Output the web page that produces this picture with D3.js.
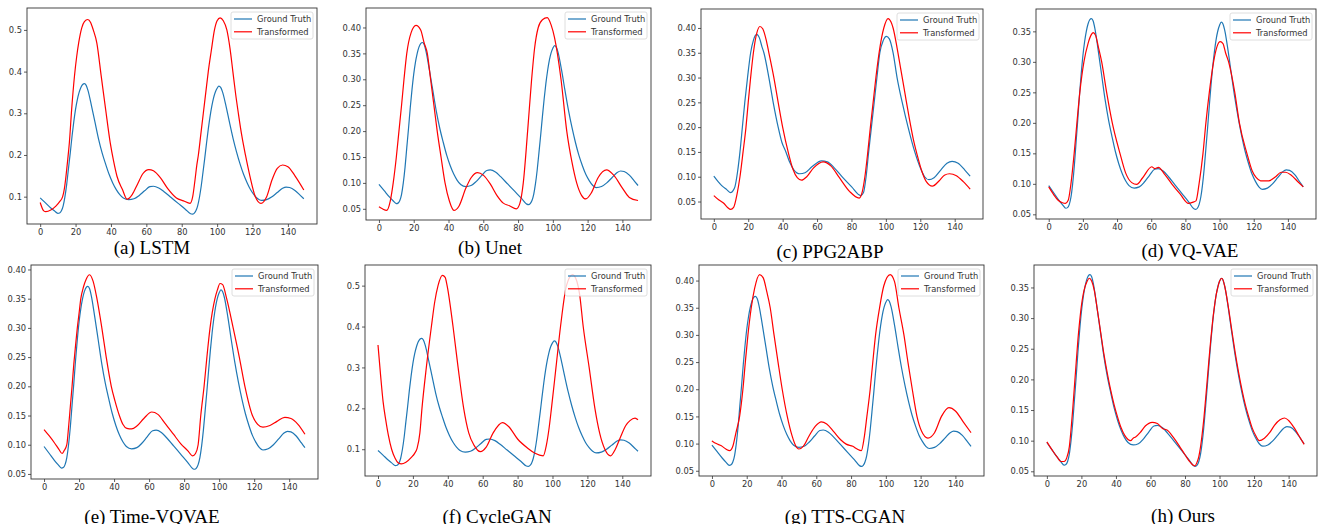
<!DOCTYPE html>
<html>
<head>
<meta charset="utf-8">
<style>body{margin:0;background:#fff}</style>
</head>
<body>
<svg width="1318" height="524" font-family="DejaVu Sans" font-size="8.3"></svg>
<script src="https://d3js.org/d3.v7.min.js"></script>
<script>

// x ticks and y ticks
var xTicks = [0, 20, 40, 60, 80, 100, 120, 140];
var yTicksTenth = [0.1, 0.2, 0.3, 0.4, 0.5];
var yTicks40 = [0.05, 0.10, 0.15, 0.20, 0.25, 0.30, 0.35, 0.40];
var yTicks35 = [0.05, 0.10, 0.15, 0.20, 0.25, 0.30, 0.35];

// ground truth (same beat in every panel except PPG2ABP)
var groundTruth = [[0,0.097],[3,0.085],[6,0.073],[8,0.066],[10,0.06],[11,0.061],[12,0.066],[13,0.078],[14,0.1],[15,0.13],[16,0.168],[17,0.205],[18,0.245],[19,0.28],[20,0.31],[21,0.333],[22,0.35],[23,0.362],[24,0.369],[25,0.371],[26,0.367],[27,0.355],[29,0.318],[31,0.278],[33,0.238],[35,0.205],[37,0.178],[39,0.153],[41,0.133],[43,0.117],[45,0.105],[47,0.097],[50,0.093],[53,0.095],[56,0.103],[59,0.114],[62,0.124],[64,0.125],[67,0.121],[70,0.112],[74,0.098],[78,0.084],[82,0.07],[85,0.059],[86,0.058],[87,0.06],[88,0.066],[89,0.078],[90,0.098],[91,0.125],[92,0.158],[93,0.192],[94,0.228],[95,0.262],[96,0.292],[97,0.317],[98,0.337],[99,0.351],[100,0.36],[101,0.365],[102,0.362],[103,0.352],[105,0.318],[107,0.278],[109,0.24],[111,0.207],[113,0.178],[115,0.153],[117,0.133],[119,0.116],[121,0.104],[123,0.095],[125,0.091],[128,0.093],[131,0.1],[134,0.11],[137,0.12],[139,0.123],[141,0.122],[144,0.115],[147,0.103],[149,0.095]];

var groundTruthC = [[0,0.101],[2.5,0.09],[4.6,0.082],[7.5,0.074],[9.8,0.068],[11.2,0.072],[12.3,0.08],[13.8,0.11],[15.2,0.15],[16.6,0.2],[18,0.25],[19.6,0.3],[21.4,0.35],[23,0.375],[24.9,0.387],[26.5,0.38],[28,0.362],[29.1,0.35],[32,0.3],[34.5,0.25],[37.4,0.2],[39.5,0.17],[41.9,0.15],[44,0.13],[46.5,0.114],[50,0.106],[53,0.108],[57,0.12],[62.6,0.132],[66,0.13],[70,0.118],[75,0.098],[80,0.08],[85.4,0.062],[87,0.068],[88.5,0.1],[90,0.15],[91.6,0.2],[93.2,0.25],[94.8,0.3],[96.5,0.35],[98.5,0.375],[100.3,0.383],[102,0.378],[104.2,0.35],[106.5,0.3],[109.5,0.25],[112.9,0.2],[116.8,0.15],[120,0.118],[122.5,0.1],[125,0.094],[128,0.098],[132,0.114],[135.5,0.127],[138.5,0.131],[142,0.127],[146,0.113],[149,0.101]];

// transformed outputs
var lstm = [[0,0.086],[2,0.066],[3.2,0.064],[6,0.068],[9,0.078],[11,0.088],[12.7,0.1],[13.7,0.12],[14.6,0.15],[15.6,0.19],[16.5,0.23],[17.8,0.31],[19.4,0.39],[20.6,0.435],[21.8,0.47],[23.5,0.505],[25,0.52],[26.9,0.525],[28.5,0.518],[30,0.5],[32,0.469],[34.5,0.389],[37,0.309],[39.6,0.229],[41.5,0.185],[43.4,0.149],[46.5,0.117],[49.1,0.094],[52,0.105],[55,0.13],[58,0.155],[61.4,0.165],[64,0.162],[68,0.145],[72,0.12],[77,0.097],[81,0.09],[84.7,0.084],[86.2,0.1],[87.5,0.14],[88.5,0.175],[89.4,0.2],[90.8,0.25],[92.2,0.3],[93.6,0.35],[95,0.4],[96.7,0.45],[98.5,0.5],[100,0.522],[101.7,0.529],[103.5,0.522],[105.5,0.5],[107.3,0.455],[108.9,0.4],[110.5,0.345],[112,0.3],[114,0.245],[116,0.2],[118.5,0.15],[121.6,0.1],[124.8,0.084],[128,0.1],[131,0.14],[134,0.168],[137,0.176],[140,0.172],[144,0.15],[149,0.116]];

var unet = [[0,0.054],[2,0.05],[4.4,0.047],[6.5,0.065],[8.2,0.1],[10,0.15],[11.5,0.2],[13,0.25],[14.4,0.3],[16,0.35],[18.5,0.39],[21.3,0.404],[24,0.395],[26,0.37],[27.8,0.35],[29.7,0.3],[31.6,0.25],[33.5,0.2],[35.7,0.15],[38,0.1],[40.5,0.065],[43.1,0.047],[46,0.055],[50,0.09],[53,0.11],[56.7,0.12],[60,0.115],[64,0.098],[68,0.075],[71.5,0.061],[75,0.056],[79,0.05],[81,0.06],[83,0.1],[85.5,0.2],[87.8,0.3],[89.5,0.36],[91.6,0.4],[94,0.415],[96.8,0.419],[99,0.405],[101,0.38],[104.7,0.3],[108,0.2],[111,0.14],[113.7,0.1],[116.5,0.076],[119,0.069],[122,0.08],[126,0.11],[130.9,0.125],[135,0.115],[140,0.09],[144,0.072],[149,0.066]];

var ppg2abp = [[0,0.062],[3,0.053],[5.6,0.047],[8,0.038],[9.8,0.034],[11.5,0.038],[13.5,0.065],[15.2,0.1],[17,0.15],[18.7,0.2],[20,0.25],[21.4,0.3],[23,0.35],[25,0.39],[26.8,0.403],[28.5,0.398],[30.5,0.375],[32,0.35],[34.9,0.3],[37.4,0.25],[40,0.2],[43.2,0.15],[46,0.115],[48.5,0.098],[51,0.093],[54,0.1],[58,0.118],[63.6,0.13],[68,0.122],[73,0.098],[79,0.07],[84.5,0.057],[86.3,0.07],[87.8,0.1],[89.5,0.15],[91,0.2],[92.6,0.25],[94.2,0.3],[96.5,0.36],[98.8,0.4],[101.3,0.419],[103,0.412],[104.2,0.4],[106.5,0.36],[108.5,0.32],[111,0.27],[113.5,0.22],[116,0.175],[118.5,0.14],[121,0.11],[123.5,0.09],[127,0.081],[131,0.092],[134,0.103],[137,0.106],[141,0.102],[145,0.09],[149,0.075]];

var vqvae = [[0,0.095],[3,0.082],[5.5,0.073],[8,0.069],[9.8,0.068],[11.4,0.073],[13,0.1],[14.9,0.15],[16.5,0.2],[18.2,0.25],[20.6,0.3],[23,0.33],[25,0.345],[26,0.348],[27.5,0.343],[29,0.325],[31,0.3],[33.9,0.25],[37.2,0.2],[41.7,0.15],[45,0.118],[48.6,0.102],[51.5,0.099],[55,0.11],[60.3,0.128],[62,0.125],[64.2,0.127],[68,0.115],[72,0.1],[77,0.083],[81.8,0.068],[84.5,0.07],[86.2,0.072],[88,0.1],[90.3,0.15],[92,0.2],[94,0.25],[96.5,0.3],[98.5,0.325],[100.4,0.333],[102,0.33],[103.5,0.315],[105.3,0.3],[108.9,0.25],[111.6,0.2],[116,0.15],[119,0.122],[121.5,0.11],[124,0.105],[128.8,0.105],[133,0.112],[136,0.119],[138.6,0.119],[142,0.114],[146,0.103],[149,0.095]];

var timeVqvae = [[0,0.126],[3,0.115],[6,0.103],[8.5,0.092],[10.3,0.085],[11.5,0.09],[13,0.1],[14,0.13],[15,0.165],[16,0.2],[17,0.238],[18,0.27],[19,0.3],[20,0.325],[21,0.35],[22.5,0.37],[24,0.383],[26,0.391],[28,0.38],[30.2,0.35],[33,0.3],[35.5,0.25],[38.4,0.2],[40.5,0.175],[43,0.15],[45,0.135],[47.3,0.128],[50,0.127],[53,0.132],[57,0.145],[61.5,0.156],[65,0.152],[69,0.137],[73.9,0.118],[78,0.102],[82,0.09],[84.9,0.081],[86.5,0.085],[88,0.1],[89.5,0.15],[91.4,0.2],[93,0.25],[94.8,0.3],[97.6,0.35],[99,0.365],[100.5,0.376],[102,0.374],[104.3,0.35],[108,0.3],[111.5,0.25],[114.7,0.2],[119,0.15],[122,0.135],[125,0.13],[129,0.133],[133,0.14],[137.5,0.147],[141,0.145],[145,0.135],[149,0.118]];

var cycleGan = [[0,0.355],[1.5,0.28],[2.9,0.217],[4.5,0.17],[5.9,0.135],[7.8,0.1],[9.8,0.078],[11.5,0.067],[13.4,0.064],[16,0.068],[19.1,0.08],[21,0.09],[22.4,0.102],[24,0.14],[25.2,0.2],[27.7,0.3],[30.6,0.4],[32.5,0.46],[34.4,0.5],[36.9,0.525],[38.5,0.52],[39.6,0.5],[43,0.4],[45.9,0.3],[49.1,0.2],[52,0.14],[55,0.11],[58.7,0.094],[62,0.105],[66,0.14],[71.3,0.165],[75,0.155],[80,0.125],[86,0.102],[90,0.09],[94.7,0.084],[96.5,0.11],[98,0.15],[99.4,0.2],[102,0.3],[104.6,0.4],[108,0.5],[111.5,0.527],[114,0.51],[115.5,0.48],[117.6,0.4],[121,0.3],[124.3,0.2],[127,0.14],[130,0.1],[133.3,0.084],[136,0.1],[139,0.13],[142,0.158],[144.4,0.17],[147.3,0.176],[149,0.172]];

var ttsCgan = [[0,0.105],[2.5,0.1],[5.4,0.096],[8,0.09],[10.2,0.087],[12,0.095],[13.8,0.12],[15.9,0.15],[17.8,0.2],[19.2,0.25],[20.7,0.3],[22.6,0.35],[24.5,0.385],[27.4,0.411],[29.5,0.405],[31.5,0.38],[33.5,0.35],[35.7,0.3],[38,0.25],[40.4,0.2],[43.3,0.15],[46,0.115],[48,0.097],[50,0.09],[52.5,0.095],[56,0.115],[59.5,0.132],[62.9,0.14],[66,0.136],[70,0.122],[74,0.107],[77.2,0.099],[81,0.095],[83.5,0.09],[85.9,0.087],[87.5,0.11],[89.1,0.15],[91,0.2],[92.5,0.25],[94.1,0.3],[96.4,0.35],[98.8,0.39],[102.5,0.411],[105,0.398],[107.5,0.35],[110.4,0.3],[112.7,0.25],[115.2,0.2],[117.9,0.15],[120.5,0.123],[124.2,0.11],[128,0.12],[132,0.15],[136.3,0.166],[140,0.16],[144.5,0.14],[149,0.12]];

var ours = [[0,0.098],[3,0.085],[6,0.073],[8.1,0.066],[10,0.066],[11.5,0.072],[13,0.09],[14,0.118],[15,0.152],[16,0.19],[17,0.228],[18,0.265],[19,0.295],[20,0.32],[21,0.338],[22,0.35],[23,0.358],[24.6,0.365],[26,0.36],[27.5,0.345],[29,0.318],[31,0.28],[33,0.242],[35,0.21],[37,0.182],[39,0.158],[41,0.138],[43,0.121],[45,0.109],[47,0.102],[48.5,0.1],[50,0.104],[51.4,0.106],[54,0.113],[57,0.124],[61,0.13],[64,0.128],[67,0.12],[69.8,0.117],[73.6,0.104],[77,0.09],[80,0.077],[83,0.065],[85.7,0.059],[87,0.065],[88,0.074],[89,0.09],[90,0.112],[91,0.138],[92,0.17],[93,0.203],[94,0.236],[95,0.267],[96,0.295],[97,0.318],[98,0.337],[99,0.35],[100,0.36],[101.4,0.365],[103,0.352],[105,0.32],[107,0.282],[109,0.245],[111,0.212],[113,0.183],[115,0.158],[117,0.138],[119,0.12],[121,0.108],[123,0.1],[126,0.104],[129,0.113],[131.8,0.125],[135,0.134],[137.7,0.137],[140,0.133],[143,0.122],[146,0.108],[149,0.094]];

var captions = ["(a) LSTM", "(b) Unet", "(c) PPG2ABP", "(d) VQ-VAE",
                "(e) Time-VQVAE", "(f) CycleGAN", "(g) TTS-CGAN", "(h) Ours"];

// layout of each subfigure: axes box [left, top, right, bottom], caption position
var panels = [
  {gt: groundTruth,  tr: lstm,      yt: yTicksTenth, fmt: ".1f", box: [27, 8, 317, 224],    cx: 152,  cy: 254},
  {gt: groundTruth,  tr: unet,      yt: yTicks40,    fmt: ".2f", box: [366, 8, 651, 220],   cx: 490,  cy: 254},
  {gt: groundTruthC, tr: ppg2abp,   yt: yTicks40,    fmt: ".2f", box: [701, 9, 983, 219],   cx: 830,  cy: 258},
  {gt: groundTruth,  tr: vqvae,     yt: yTicks35,    fmt: ".2f", box: [1036, 9, 1316, 219], cx: 1190, cy: 257},
  {gt: groundTruth,  tr: timeVqvae, yt: yTicks40,    fmt: ".2f", box: [31, 265, 318, 479],  cx: 152,  cy: 523},
  {gt: groundTruth,  tr: cycleGan,  yt: yTicksTenth, fmt: ".1f", box: [365, 265, 651, 476], cx: 497,  cy: 523},
  {gt: groundTruth,  tr: ttsCgan,   yt: yTicks40,    fmt: ".2f", box: [699, 265, 984, 476], cx: 845,  cy: 523},
  {gt: groundTruth,  tr: ours,      yt: yTicks35,    fmt: ".2f", box: [1034, 265, 1317, 476], cx: 1183, cy: 522}
];

var blue = "#1f77b4", red = "#ff0000", ink = "#333";

var svg = d3.select("svg");
svg.append("rect").attr("width", 1318).attr("height", 524).attr("fill", "#fff");

function pad(ext) {
  var m = (ext[1] - ext[0]) * 0.05;
  return [ext[0] - m, ext[1] + m];
}

panels.forEach(function(p, i) {
  var l = p.box[0], t = p.box[1], r = p.box[2], b = p.box[3];
  var all = p.gt.concat(p.tr);

  var x = d3.scaleLinear()
      .domain(pad(d3.extent(all, function(d) { return d[0]; })))
      .range([l, r]);
  var y = d3.scaleLinear()
      .domain(pad(d3.extent(all, function(d) { return d[1]; })))
      .range([b, t]);

  var g = svg.append("g");

  g.append("g")
      .attr("transform", "translate(0," + b + ")")
      .call(d3.axisBottom(x).tickValues(xTicks).tickSize(3).tickPadding(2))
      .call(function(s) {
        s.select(".domain").remove();
        s.selectAll("line").attr("stroke", ink).attr("stroke-width", 0.8);
        s.selectAll("text").attr("fill", ink).attr("font-size", 8.3).attr("font-family", "DejaVu Sans");
      });

  g.append("g")
      .attr("transform", "translate(" + l + ",0)")
      .call(d3.axisLeft(y).tickValues(p.yt).tickFormat(d3.format(p.fmt)).tickSize(3).tickPadding(2))
      .call(function(s) {
        s.select(".domain").remove();
        s.selectAll("line").attr("stroke", ink).attr("stroke-width", 0.8);
        s.selectAll("text").attr("fill", ink).attr("font-size", 8.3).attr("font-family", "DejaVu Sans");
      });

  var line = d3.line()
      .x(function(d) { return x(d[0]); })
      .y(function(d) { return y(d[1]); })
      .curve(d3.curveMonotoneX);

  g.append("path")
      .attr("d", line(p.gt))
      .attr("fill", "none")
      .attr("stroke", blue)
      .attr("stroke-width", 1.2);

  g.append("path")
      .attr("d", line(p.tr))
      .attr("fill", "none")
      .attr("stroke", red)
      .attr("stroke-width", 1.2);

  g.append("rect")
      .attr("x", l).attr("y", t)
      .attr("width", r - l).attr("height", b - t)
      .attr("fill", "none")
      .attr("stroke", ink)
      .attr("stroke-width", 0.9);

  // legend
  var lw = 82, lh = 27;
  var lg = g.append("g").attr("transform", "translate(" + (r - 4 - lw) + "," + (t + 4) + ")");
  lg.append("rect")
      .attr("width", lw).attr("height", lh).attr("rx", 2)
      .attr("fill", "#fff").attr("fill-opacity", 0.8)
      .attr("stroke", "#d5d5d5").attr("stroke-width", 0.8);
  [["Ground Truth", blue], ["Transformed", red]].forEach(function(e, k) {
    var yy = 7 + k * 12.8;
    lg.append("line")
        .attr("x1", 3).attr("x2", 21).attr("y1", yy).attr("y2", yy)
        .attr("stroke", e[1]).attr("stroke-width", 1.2);
    lg.append("text")
        .attr("x", 26).attr("y", yy).attr("dy", "0.35em")
        .attr("fill", ink)
        .text(e[0]);
  });

  svg.append("text")
      .attr("x", p.cx).attr("y", p.cy)
      .attr("text-anchor", "middle")
      .attr("font-family", "Liberation Serif, Times New Roman, serif")
      .attr("font-size", 19)
      .attr("fill", "#000")
      .text(captions[i]);
});

</script>
</body>
</html>
